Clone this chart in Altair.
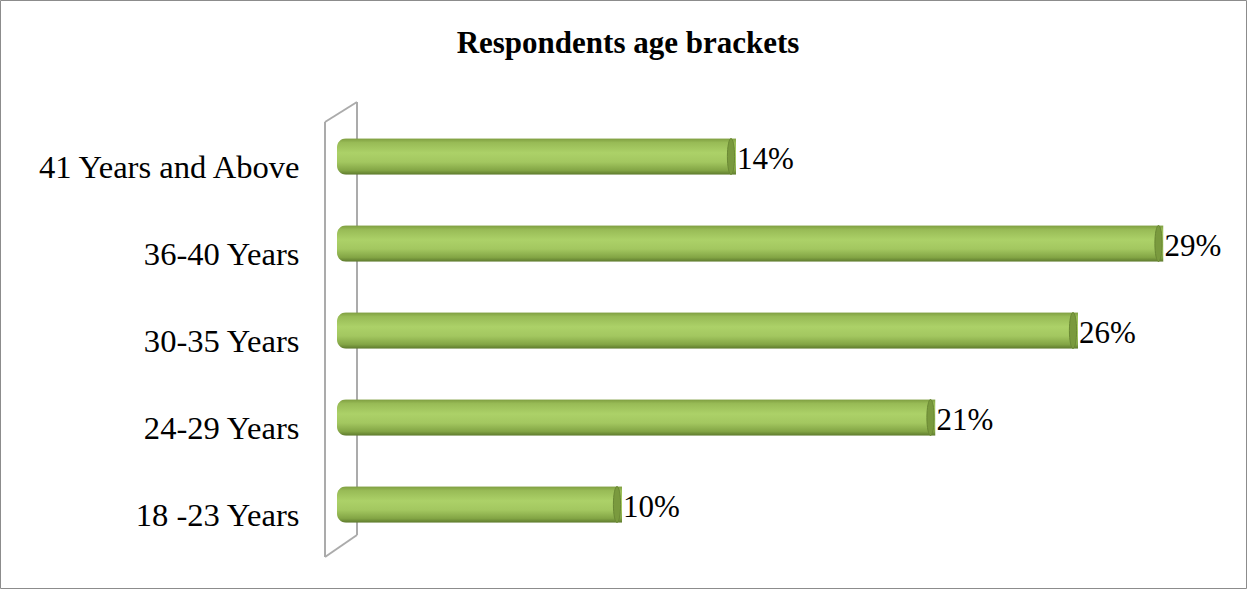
import altair as alt
import pandas as pd

categories = ["41 Years and Above", "36-40 Years", "30-35 Years", "24-29 Years", "18 -23 Years"]
values = [14, 29, 26, 21, 10]
labels = ["14%", "29%", "26%", "21%", "10%"]

df = pd.DataFrame({"cat": categories, "val": values, "lab": labels})

W, H = 855, 435
PL, PT = 337, 113
PR, PB = 1247 - PL - W, 589 - PT - H
FONT = "Liberation Serif"

ysc = alt.Y("cat:N", sort=categories,
            scale=alt.Scale(paddingInner=0.58, paddingOuter=0.29),
            axis=alt.Axis(title=None, domain=False, ticks=False, grid=False,
                          labelFont=FONT, labelFontSize=32.6, labelColor="#000000",
                          labelPadding=38, labelLimit=400, labelOffset=11,
                          labelBaseline="middle"))
xsc = alt.X("val:Q", scale=alt.Scale(domain=[0, 30]), axis=None)

grad = alt.Gradient(gradient="linear", x1=0, y1=0, x2=0, y2=1, stops=[
    alt.GradientStop(offset=0, color="#7d9c3f"),
    alt.GradientStop(offset=0.12, color="#98bb56"),
    alt.GradientStop(offset=0.4, color="#acd168"),
    alt.GradientStop(offset=0.65, color="#a3c760"),
    alt.GradientStop(offset=0.88, color="#83a545"),
    alt.GradientStop(offset=1, color="#5c782c"),
])

base = alt.Chart(df)

# 3D wall outline (decorative)
wall_df = pd.DataFrame({"a": [0]})
wall_col = "#ababab"
wall = alt.layer(
    alt.Chart(wall_df).mark_rule(color=wall_col, strokeWidth=2).encode(
        x=alt.value(-12), y=alt.value(122 - PT), x2=alt.value(-12), y2=alt.value(557 - PT)),
    alt.Chart(wall_df).mark_rule(color=wall_col, strokeWidth=2).encode(
        x=alt.value(20), y=alt.value(102 - PT), x2=alt.value(20), y2=alt.value(535 - PT)),
    alt.Chart(wall_df).mark_rule(color=wall_col, strokeWidth=2).encode(
        x=alt.value(-12), y=alt.value(122 - PT), x2=alt.value(20), y2=alt.value(102 - PT)),
    alt.Chart(wall_df).mark_rule(color=wall_col, strokeWidth=2).encode(
        x=alt.value(-12), y=alt.value(557 - PT), x2=alt.value(20), y2=alt.value(535 - PT)),
)

bars = base.mark_bar(fill=grad, cornerRadiusTopLeft=9, cornerRadiusBottomLeft=9,
                     clip=False).encode(y=ysc, x=xsc)

cap_shape = "M0,-1 A0.2,1 0 1,1 0,1 A0.2,1 0 1,1 0,-1 Z"
caps = base.mark_point(shape=cap_shape, size=36 * 36, filled=True, opacity=1,
                       fill="#7a9a3e", stroke="#6a8834", strokeWidth=1).encode(
    y=alt.Y("cat:N", sort=categories), x=alt.X("val:Q"), xOffset=alt.value(-5))

texts = base.mark_text(align="left", baseline="middle", dx=1, dy=3, font=FONT,
                       fontSize=31, color="#000000").encode(
    y=alt.Y("cat:N", sort=categories), x=alt.X("val:Q"), text="lab:N")

title = alt.Chart(wall_df).mark_text(font=FONT, fontSize=31, fontWeight="bold",
                                     color="#000000", align="center",
                                     baseline="alphabetic").encode(
    x=alt.value(628 - PL), y=alt.value(53 - PT), text=alt.value("Respondents age brackets"))

border = alt.Chart(wall_df).mark_rect(fill=None, stroke="#8c8c8c", strokeWidth=1).encode(
    x=alt.value(-PL + 0.5), x2=alt.value(W + PR - 0.5),
    y=alt.value(-PT + 0.5), y2=alt.value(H + PB - 0.5))

chart = alt.layer(border, title, wall, bars, caps, texts).properties(
    width=W, height=H,
    autosize=alt.AutoSizeParams(type="none"),
    padding={"left": PL, "top": PT, "right": PR, "bottom": PB},
    background="white",
).configure_view(stroke=None)

chart.save("out.html", embed_options={"renderer": "svg", "actions": False})
